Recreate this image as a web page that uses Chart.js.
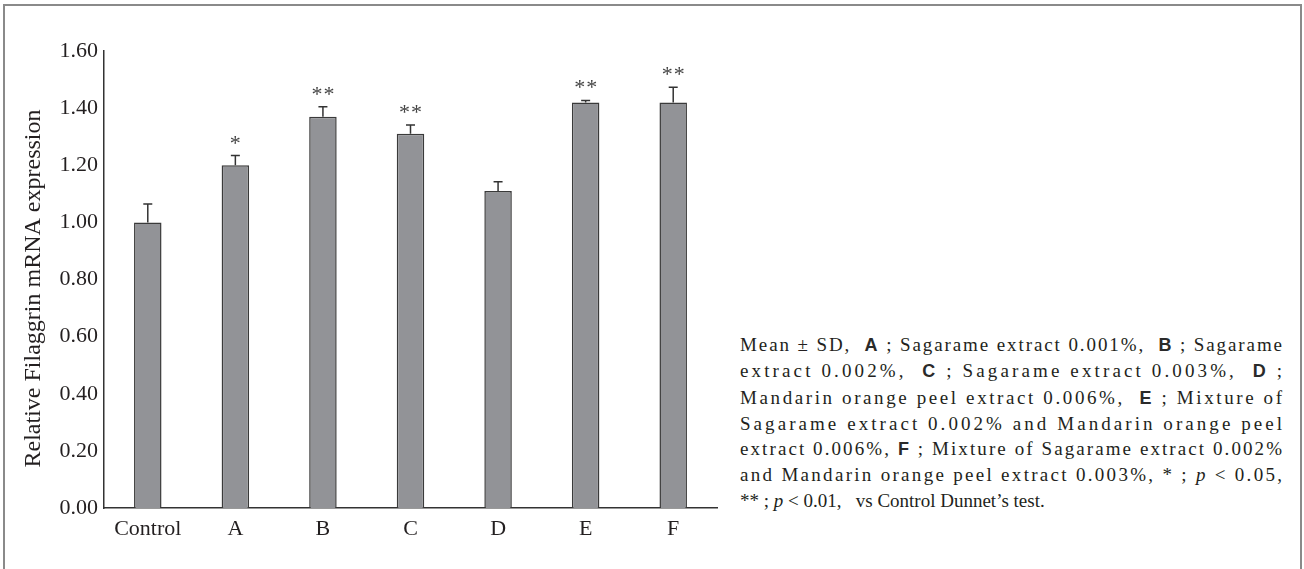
<!DOCTYPE html>
<html>
<head>
<meta charset="utf-8">
<script src="https://cdn.jsdelivr.net/npm/chart.js@4.4.1/dist/chart.umd.min.js"></script>
<style>
  html, body { margin: 0; padding: 0; background: #fff; }
  body { width: 1304px; height: 569px; position: relative; overflow: hidden; }
  #frame { position: absolute; left: 3px; top: 4px; width: 1299px; height: 620px; border: 2px solid #8a8a8a; box-sizing: border-box; }
  #wrap { position: absolute; left: 0; top: 0; width: 740px; height: 569px; }
  #note { position: absolute; left: 740px; top: 332px; font: 19px "Liberation Serif", serif; color: #231f20; line-height: 25.3px; }
  #note div { white-space: nowrap; }
  #note b { font-family: "Liberation Sans", sans-serif; font-weight: bold; font-size: 18px; color: #2a2a2a; }
</style>
</head>
<body>
<div id="frame"></div>
<div id="wrap"><canvas id="chart"></canvas></div>
<div id="note">
  <div class="fit">Mean ± SD,&nbsp; <b>A</b> ; Sagarame extract 0.001%,&nbsp; <b>B</b> ; Sagarame</div>
  <div class="fit">extract 0.002%,&nbsp; <b>C</b> ; Sagarame extract 0.003%,&nbsp; <b>D</b> ;</div>
  <div class="fit">Mandarin orange peel extract 0.006%,&nbsp; <b>E</b> ; Mixture of</div>
  <div class="fit">Sagarame extract 0.002% and Mandarin orange peel</div>
  <div class="fit">extract 0.006%, <b>F</b> ; Mixture of Sagarame extract 0.002%</div>
  <div class="fit">and Mandarin orange peel extract 0.003%, * ; <i>p</i> &lt; 0.05,</div>
  <div>** ; <i>p</i> &lt; 0.01,&nbsp;&nbsp; vs Control Dunnet’s test.</div>
</div>
<script>
// values
const categories = ['Control', 'A', 'B', 'C', 'D', 'E', 'F'];
const means = [1.00, 1.20, 1.37, 1.31, 1.11, 1.42, 1.42];
const sds   = [0.064, 0.034, 0.035, 0.031, 0.032, 0.007, 0.053];
const marks = ['', '*', '**', '**', '', '**', '**'];
const yTicks = [0, 0.2, 0.4, 0.6, 0.8, 1.0, 1.2, 1.4, 1.6];

const INK = '#231f20';
const SERIF = '"Liberation Serif", "Times New Roman", serif';

// stretch the caption lines to a justified block, like the original
const NOTE_W = 542;
document.querySelectorAll('#note .fit').forEach(line => {
  line.style.display = 'inline-block';
  const natural = line.getBoundingClientRect().width;
  const n = line.textContent.length - 1;
  line.style.letterSpacing = Math.max(0, (NOTE_W - natural) / n) + 'px';
  line.style.display = 'block';
});

const errorBars = {
  id: 'errorBars',
  afterDatasetsDraw(chart) {
    const { ctx, scales: { x, y } } = chart;
    ctx.save();
    ctx.strokeStyle = '#333';
    ctx.lineWidth = 1.5;
    means.forEach((m, i) => {
      const px = x.getPixelForValue(i);
      const top = y.getPixelForValue(m);
      const end = y.getPixelForValue(m + sds[i]);
      ctx.beginPath();
      ctx.moveTo(px, top);
      ctx.lineTo(px, end);
      ctx.moveTo(px - 4.5, end);
      ctx.lineTo(px + 4.5, end);
      ctx.stroke();

      // significance stars
      const s = marks[i];
      if (!s) return;
      ctx.fillStyle = '#444';
      ctx.font = '22px ' + SERIF;
      ctx.textAlign = 'center';
      ctx.textBaseline = 'alphabetic';
      const base = end - 6;
      if (s.length === 1) {
        ctx.fillText('*', px, base);
      } else {
        ctx.fillText('*', px - 6, base);
        ctx.fillText('*', px + 6, base);
      }
    });
    ctx.restore();
  }
};

new Chart(document.getElementById('chart'), {
  type: 'bar',
  data: {
    labels: categories,
    datasets: [{
      data: means,
      backgroundColor: '#929397',
      borderColor: '#3a3a3a',
      borderWidth: 1.5,
      barPercentage: 0.314,
      categoryPercentage: 1
    }]
  },
  options: {
    responsive: true,
    maintainAspectRatio: false,
    animation: false,
    devicePixelRatio: 1,
    layout: { padding: { top: 51, right: 23, left: 0, bottom: 0 } },
    plugins: { legend: { display: false }, tooltip: { enabled: false } },
    scales: {
      x: {
        grid: { display: false, drawTicks: false },
        border: { display: true, color: '#333', width: 1.5 },
        ticks: { color: INK, padding: 8, font: { family: SERIF, size: 22 } },
        afterFit: s => { s.height = 61; }
      },
      y: {
        min: 0,
        max: 1.6,
        grid: { display: false, drawTicks: false },
        border: { display: true, color: '#333', width: 1.5 },
        afterBuildTicks: s => { s.ticks = yTicks.map(v => ({ value: v })); },
        ticks: {
          color: INK,
          padding: 6,
          font: { family: SERIF, size: 22 },
          callback: v => Number(v).toFixed(2)
        },
        title: {
          display: true,
          text: 'Relative Filaggrin mRNA expression\u00a0\u00a0\u00a0',
          color: INK,
          font: { family: SERIF, size: 24 },
          padding: { top: 19, bottom: 0 }
        },
        afterFit: s => { s.width = 104; }
      }
    }
  },
  plugins: [errorBars]
});
</script>
</body>
</html>
